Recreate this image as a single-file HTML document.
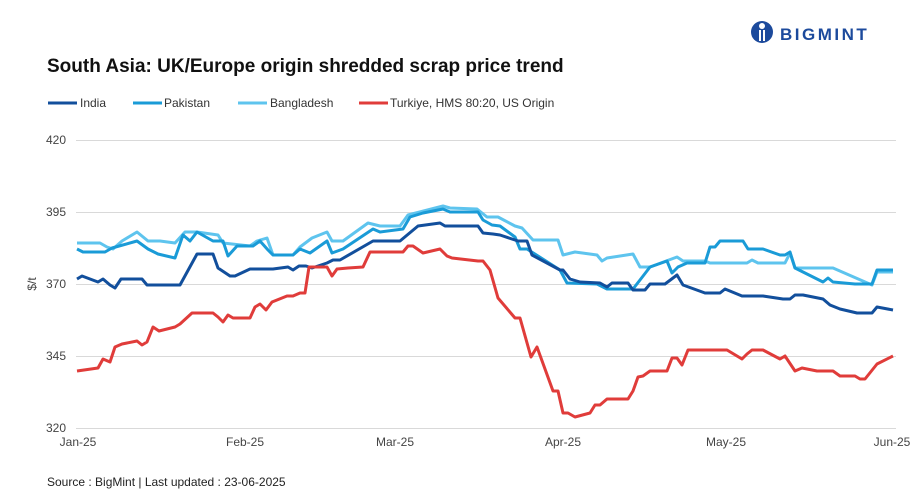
<!DOCTYPE html>
<html><head><meta charset="utf-8"><style>
body{margin:0;background:#fff;font-family:"Liberation Sans",Arial,sans-serif;}
</style></head><body>
<svg width="918" height="498" viewBox="0 0 918 498" xmlns="http://www.w3.org/2000/svg" font-family="Liberation Sans, Arial, sans-serif">
<rect width="918" height="498" fill="#fff"/>
<g transform="translate(750,20)">
<circle cx="12" cy="12" r="11" fill="#1c4a9c"/>
<circle cx="12" cy="6" r="3" fill="#fff"/>
<rect x="9" y="10" width="6" height="11" fill="#fff"/>
<rect x="11" y="10" width="2" height="11" fill="#1c4a9c"/>
<text x="30" y="20" font-size="17" font-weight="bold" fill="#1c4a9c" letter-spacing="2.5">BIGMINT</text>
</g>
<text x="47" y="72" font-size="19" font-weight="bold" fill="#111">South Asia: UK/Europe origin shredded scrap price trend</text>
<g font-size="12" fill="#333">
<line x1="48" y1="103" x2="77" y2="103" stroke="#124f9c" stroke-width="3"/><text x="80" y="107">India</text>
<line x1="133" y1="103" x2="162" y2="103" stroke="#1a9bd7" stroke-width="3"/><text x="164" y="107">Pakistan</text>
<line x1="238" y1="103" x2="267" y2="103" stroke="#5ec4ee" stroke-width="3"/><text x="270" y="107">Bangladesh</text>
<line x1="359" y1="103" x2="388" y2="103" stroke="#e03c3a" stroke-width="3"/><text x="390" y="107">Turkiye, HMS 80:20, US Origin</text>
</g>
<g stroke="#d9d9d9" stroke-width="1">
<line x1="76" y1="140.5" x2="896" y2="140.5"/>
<line x1="76" y1="212.5" x2="896" y2="212.5"/>
<line x1="76" y1="284.5" x2="896" y2="284.5"/>
<line x1="76" y1="356.5" x2="896" y2="356.5"/>
<line x1="76" y1="428.5" x2="896" y2="428.5"/>
</g>
<g font-size="12" fill="#444" text-anchor="end">
<text x="66" y="144">420</text><text x="66" y="216">395</text><text x="66" y="288">370</text><text x="66" y="360">345</text><text x="66" y="432">320</text>
</g>
<text x="36" y="284" font-size="12" fill="#444" text-anchor="middle" transform="rotate(-90 36 284)">$/t</text>
<g font-size="12" fill="#444" text-anchor="middle">
<text x="78" y="446">Jan-25</text><text x="245" y="446">Feb-25</text><text x="395" y="446">Mar-25</text><text x="563" y="446">Apr-25</text><text x="726" y="446">May-25</text><text x="892" y="446">Jun-25</text>
</g>
<g fill="none" stroke-width="3" stroke-linejoin="round">
<polyline stroke="#5ec4ee" points="77,243 100,243 107,247 113,249 122,241 137,232 148,241 160,241 175,243 185,232 197,232 218,235 223,243 250,246 257,241 267,238 273,255 293,255 300,247 312,238 327,232 332,241 343,241 368,223 380,226 400,226 408,215 443,206 450,208 477,209 487,217 498,217 515,226 522,228 533,240 558,240 563,255 575,252 597,255 602,261 607,258 633,254 640,267 650,267 677,257 683,261 705,261 710,263 747,263 752,260 758,263 785,263 790,253 795,268 833,268 872,285 877,272 893,272"/>
<polyline stroke="#1a9bd7" points="77,249 83,252 105,252 112,248 137,241 148,249 158,254 175,258 183,235 190,241 197,232 213,241 223,241 228,256 237,246 253,246 260,241 268,250 273,255 293,255 300,249 310,253 327,241 332,253 343,249 373,229 380,232 403,229 410,217 423,213 443,209 450,212 478,212 483,220 492,225 500,226 515,237 520,249 527,249 560,270 567,283 597,284 607,289 633,289 640,280 650,267 667,261 672,273 678,267 687,263 705,263 710,247 715,247 720,241 743,241 748,249 763,249 780,255 785,255 790,252 795,268 823,282 828,278 833,282 855,284 872,284 877,270 893,270"/>
<polyline stroke="#124f9c" points="77,279 82,276 98,282 103,279 110,285 115,288 121,279 142,279 147,285 180,285 197,254 213,254 218,268 230,276 235,276 250,269 273,269 288,267 293,270 299,266 306,266 312,268 327,263 333,260 340,260 373,241 400,241 418,226 440,223 445,226 478,226 483,233 493,234 500,235 518,241 527,241 532,255 560,270 563,270 570,279 580,282 600,283 607,287 612,283 628,283 633,290 645,290 650,284 665,284 677,275 683,285 705,293 720,293 725,289 742,296 763,296 783,299 790,299 795,295 803,295 823,299 830,305 840,309 857,313 872,313 877,307 893,310"/>
<polyline stroke="#e03c3a" points="77,371 98,368 103,359 110,362 115,347 122,344 137,341 142,345 147,342 153,327 159,331 175,327 180,324 192,313 213,313 218,317 223,322 228,315 233,318 250,318 255,307 260,304 266,310 272,302 287,296 293,296 300,293 305,293 309,267 327,267 332,276 337,269 348,268 363,267 370,252 403,252 408,246 413,246 423,253 440,249 447,256 452,258 478,261 483,261 490,270 498,298 515,318 520,318 531,357 537,347 553,391 558,391 563,413 568,413 575,417 590,413 595,405 600,405 607,399 628,399 633,391 638,377 643,376 650,371 667,371 672,358 677,358 682,365 688,350 727,350 742,359 747,354 752,350 763,350 780,359 785,356 795,371 802,368 817,371 833,371 840,376 855,376 860,379 865,379 877,364 893,356"/>
</g>
<text x="47" y="486" font-size="12" fill="#222">Source : BigMint | Last updated : 23-06-2025</text>
</svg>
</body></html>
